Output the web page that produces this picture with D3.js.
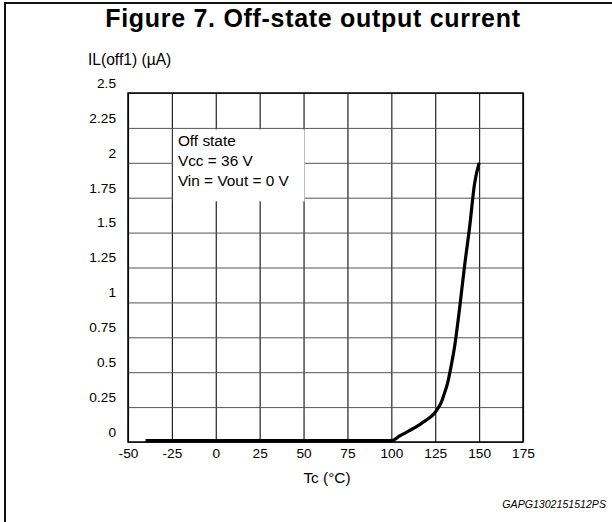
<!DOCTYPE html>
<html>
<head>
<meta charset="utf-8">
<script src="https://cdn.jsdelivr.net/npm/d3@7"></script>
<style>
    body { margin: 0; background: #fff; }
    svg { display: block; font-family: "Liberation Sans", Arial, sans-serif; }
</style>
</head>
<body>
<div id="chart"></div>
<script>
let W = 612, H = 522;
let margin = { top: 93, right: 89, bottom: 80, left: 128 },
    width = W - margin.left - margin.right,
    height = H - margin.top - margin.bottom;

// temperature (°C) vs off-state current (µA)
let temp = [-40, 100, 105, 110, 115, 119, 122, 124.5, 126.5, 128.3, 130, 132, 134, 136, 139, 141.7, 144.6, 147.4, 150];
let current = [0.01, 0.01, 0.045, 0.08, 0.115, 0.15, 0.175, 0.205, 0.24, 0.28, 0.34, 0.42, 0.54, 0.68, 0.97, 1.26, 1.54, 1.85, 2.0];

let xTicks = [-50, -25, 0, 25, 50, 75, 100, 125, 150, 175];
let yTicks = [0, 0.25, 0.5, 0.75, 1, 1.25, 1.5, 1.75, 2, 2.25, 2.5];

let notes = ["Off state", "Vcc = 36 V", "Vin = Vout = 0 V"];

let svg = d3.select("#chart")
    .append("svg")
    .attr("width", W)
    .attr("height", H);

// frame round the figure (only top and left show)
svg.append("rect")
    .attr("x", 5).attr("y", 3)
    .attr("width", W + 10).attr("height", H + 10)
    .attr("fill", "none")
    .attr("stroke", "#111")
    .attr("stroke-width", 2);

svg.append("text")
    .attr("x", 313).attr("y", 27)
    .attr("text-anchor", "middle")
    .style("font-size", "25px")
    .style("letter-spacing", "0.7px")
    .style("font-weight", "bold")
    .text("Figure 7. Off-state output current");

let g = svg.append("g")
    .attr("transform", "translate(" + margin.left + "," + margin.top + ")");

let x = d3.scaleLinear().domain([-50, 175]).range([0, width]);
let y = d3.scaleLinear().domain([0, 2.5]).range([height, 0]);

// vertical grid + x labels
let xAxis = g.append("g")
    .attr("transform", "translate(0," + height + ")")
    .call(d3.axisBottom(x).tickValues(xTicks).tickFormat(d => String(d))
        .tickSize(-height).tickPadding(6));
xAxis.select(".domain").remove();
xAxis.selectAll("line").attr("stroke", "#222").attr("stroke-width", 1.2);
xAxis.selectAll("text").style("font-size", "13.7px").attr("fill", "#000");

// horizontal grid + y labels (labels sit above their lines, as in the original)
let yAxis = g.append("g")
    .call(d3.axisLeft(y).tickValues(yTicks).tickFormat(d => String(d))
        .tickSize(-width).tickPadding(12));
yAxis.select(".domain").remove();
yAxis.selectAll("line").attr("stroke", "#555").attr("stroke-width", 1);
yAxis.selectAll("text")
    .attr("y", -10)
    .style("font-size", "13.7px")
    .attr("fill", "#000");

// plot border
g.append("rect")
    .attr("width", width).attr("height", height)
    .attr("fill", "none")
    .attr("stroke", "#000")
    .attr("stroke-width", 1.5);

// note box masks the grid
g.append("rect")
    .attr("x", x(-25) + 1)
    .attr("y", y(2.25) + 1.5)
    .attr("width", x(50) - x(-25))
    .attr("height", y(1.735) - y(2.25))
    .attr("fill", "#fff");

g.selectAll(".note")
    .data(notes)
    .enter()
    .append("text")
    .attr("class", "note")
    .attr("x", x(-25) + 6)
    .attr("y", (d, i) => y(2.25) + 18.5 + i * 20)
    .style("font-size", "15.4px")
    .text(d => d);

let line = d3.line()
    .x((d, i) => x(temp[i]))
    .y(d => y(d))
    .curve(d3.curveMonotoneX);

g.append("path")
    .datum(current)
    .attr("fill", "none")
    .attr("stroke", "#000")
    .attr("stroke-width", 3.2)
    .attr("stroke-linejoin", "round")
    .attr("d", line);

svg.append("text")
    .attr("x", 88).attr("y", 65)
    .style("font-size", "15.6px")
    .text("IL(off1) (µA)");

svg.append("text")
    .attr("x", 327).attr("y", 483)
    .attr("text-anchor", "middle")
    .style("font-size", "15.4px")
    .text("Tc (°C)");

svg.append("text")
    .attr("x", 606).attr("y", 508)
    .attr("text-anchor", "end")
    .style("font-size", "10.6px")
    .style("font-style", "italic")
    .text("GAPG1302151512PS");
</script>
</body>
</html>
